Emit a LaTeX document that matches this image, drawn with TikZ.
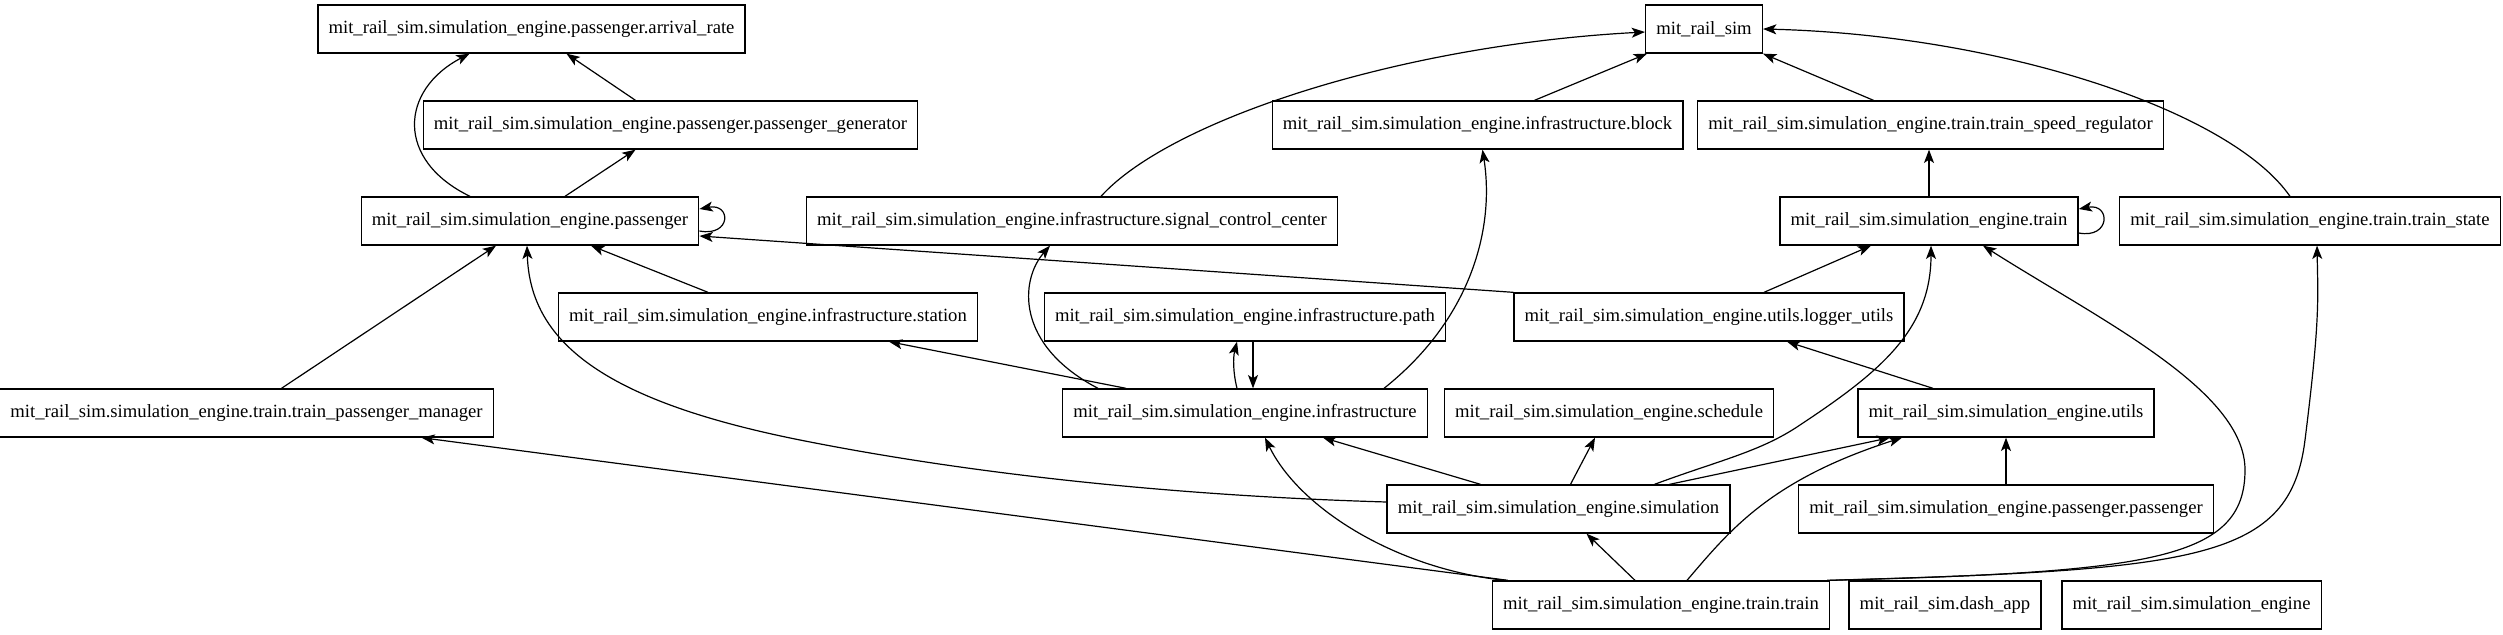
\documentclass[tikz,border=0pt]{standalone}
\usepackage{fontspec}
\setmainfont{Liberation Serif}
\usetikzlibrary{calc,arrows.meta}

\begin{document}
\begin{tikzpicture}[x=0.75pt,y=-0.75pt,box/.style={draw,line width=1pt,minimum height=36pt,inner xsep=8pt,inner ysep=0pt,font=\fontsize{14}{16}\selectfont},arr/.style={-{Stealth[length=10pt,width=7.5pt,inset=2.5pt]},line width=0.9pt}]
\useasboundingbox (0,0) rectangle (2503,635);
\node[box] (arrival) at (531.5,29) {mit\_rail\_sim.simulation\_engine.passenger.arrival\_rate};
\node[box] (generator) at (670.5,125) {mit\_rail\_sim.simulation\_engine.passenger.passenger\_generator};
\node[box] (passenger) at (530,221) {mit\_rail\_sim.simulation\_engine.passenger};
\node[box] (signal) at (1072,221) {mit\_rail\_sim.simulation\_engine.infrastructure.signal\_control\_center};
\node[box] (station) at (768,317) {mit\_rail\_sim.simulation\_engine.infrastructure.station};
\node[box] (manager) at (246.5,413) {mit\_rail\_sim.simulation\_engine.train.train\_passenger\_manager};
\node[box] (railsim) at (1704,29) {mit\_rail\_sim};
\node[box] (block) at (1477.5,125) {mit\_rail\_sim.simulation\_engine.infrastructure.block};
\node[box] (regulator) at (1930.5,125) {mit\_rail\_sim.simulation\_engine.train.train\_speed\_regulator};
\node[box] (train) at (1929,221) {mit\_rail\_sim.simulation\_engine.train};
\node[box] (trainstate) at (2310,221) {mit\_rail\_sim.simulation\_engine.train.train\_state};
\node[box] (path) at (1245,317) {mit\_rail\_sim.simulation\_engine.infrastructure.path};
\node[box] (logger) at (1709,317) {mit\_rail\_sim.simulation\_engine.utils.logger\_utils};
\node[box] (infra) at (1245,413) {mit\_rail\_sim.simulation\_engine.infrastructure};
\node[box] (schedule) at (1609,413) {mit\_rail\_sim.simulation\_engine.schedule};
\node[box] (utils) at (2006,413) {mit\_rail\_sim.simulation\_engine.utils};
\node[box] (simulation) at (1558.5,509) {mit\_rail\_sim.simulation\_engine.simulation};
\node[box] (ppassenger) at (2006,509) {mit\_rail\_sim.simulation\_engine.passenger.passenger};
\node[box] (traintrain) at (1661,605) {mit\_rail\_sim.simulation\_engine.train.train};
\node[box] (dashapp) at (1945,605) {mit\_rail\_sim.dash\_app};
\node[box] (engine) at (2191.5,605) {mit\_rail\_sim.simulation\_engine};
\draw[arr] ($(passenger.north)+(-60,0)$) .. controls (395,160) and (400,90) .. ($(arrival.south)+(-62,0)$);
\draw[arr] ($(generator.north)+(-35,0)$) -- ($(arrival.south)+(35,0)$);
\draw[arr] ($(passenger.north)+(35,0)$) -- ($(generator.south)+(-35,0)$);
\draw[arr] ($(passenger.east)+(0,10)$) .. controls +(32,6) and +(32,-6) .. ($(passenger.east)+(0,-12)$);
\draw[arr] (logger.north west) -- ($(passenger.east)+(0,15)$);
\draw[arr] ($(station.north)+(-60,0)$) -- ($(passenger.south)+(61,0)$);
\draw[arr] ($(manager.north)+(35,0)$) -- ($(passenger.south)+(-34,0)$);
\draw[arr] ($(simulation.west)+(0,-7)$) .. controls (1150,495) and (950,470) .. (800,440) .. controls (600,400) and (530,340) .. ($(passenger.south)+(-3,0)$);
\draw[arr] ($(traintrain.north west)+(16,0)$) -- ($(manager.south)+(175,0)$);
\draw[arr] ($(signal.north)+(29,0)$) .. controls (1170,120) and (1400,45) .. ($(railsim.west)+(0,3)$);
\draw[arr] ($(block.north)+(57,0)$) -- ($(railsim.south west)+(2,0)$);
\draw[arr] ($(infra.north)+(139,0)$) .. controls (1470,320) and (1495,230) .. ($(block.south)+(5,0)$);
\draw[arr] ($(infra.north)+(-147,0)$) .. controls (1015,345) and (1020,280) .. ($(signal.south)+(-22,0)$);
\draw[arr] ($(infra.north)+(-119,0)$) -- ($(station.south)+(121,0)$);
\draw[arr] ($(infra.north)+(-8,0)$) .. controls +(-4,-16) and +(-4,16) .. ($(path.south)+(-8,0)$);
\draw[arr] ($(path.south)+(8,0)$) -- ($(infra.north)+(8,0)$);
\draw[arr] ($(simulation.north)+(-78,0)$) -- ($(infra.south)+(78,0)$);
\draw[arr] ($(traintrain.north west)+(14,0)$) .. controls (1400,570) and (1300,510) .. ($(infra.south)+(20,0)$);
\draw[arr] ($(traintrain.north)+(-26,0)$) -- ($(simulation.south)+(28,0)$);
\draw[arr] ($(simulation.north)+(12,0)$) -- ($(schedule.south)+(-14,0)$);
\draw[arr] ($(simulation.north)+(111,0)$) -- ($(utils.south)+(-116,0)$);
\draw[arr] ($(simulation.north)+(96,0)$) .. controls (1720,460) and (1760,452) .. (1800,425) .. controls (1880,372) and (1931,330) .. ($(train.south)+(2,0)$);
\draw[arr] ($(traintrain.north)+(26,0)$) .. controls (1730,530) and (1770,480) .. ($(utils.south)+(-104,0)$);
\draw[arr] (ppassenger.north) -- (utils.south);
\draw[arr] ($(utils.north)+(-73,0)$) -- ($(logger.south)+(78,0)$);
\draw[arr] ($(logger.north)+(55,0)$) -- ($(train.south)+(-58,0)$);
\draw[arr] (train.north) -- (train.north |- regulator.south);
\draw[arr] ($(regulator.north)+(-57,0)$) -- (railsim.south east);
\draw[arr] ($(trainstate.north)+(-20,0)$) .. controls (2230,110) and (2000,35) .. (railsim.east);
\draw[arr] ($(train.east)+(0,12)$) .. controls +(32,6) and +(32,-6) .. ($(train.east)+(0,-12)$);
\draw[arr] (traintrain.north east) .. controls (2150,572) and (2245,560) .. (2245,470) .. controls (2245,390) and (2100,320) .. ($(train.south)+(54,0)$);
\draw[arr] ($(traintrain.north east)+(-3,0)$) .. controls (2200,570) and (2290,560) .. (2305,440) .. controls (2320,320) and (2318,300) .. ($(trainstate.south)+(7,0)$);
\end{tikzpicture}
\end{document}
